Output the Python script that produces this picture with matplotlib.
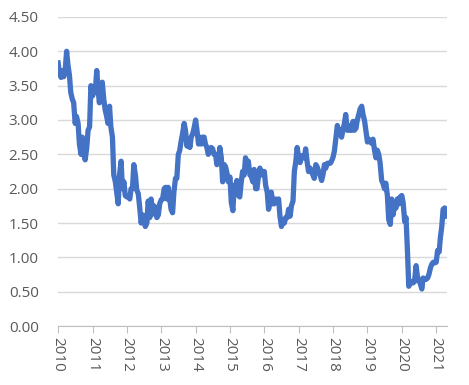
import matplotlib
matplotlib.use("Agg")
import matplotlib.pyplot as plt
import matplotlib.dates as mdates
import pandas as pd

# semi-monthly readings (1st and 15th of each month), Jan 2010 - Apr 2021
START = "2010-01-01"
Y2010 = [3.83, 3.68, 3.62, 3.72, 3.63, 3.70, 4.00, 3.80, 3.65, 3.40, 3.30, 3.25,
         2.95, 3.05, 2.95, 2.65, 2.50, 2.75, 2.50, 2.42, 2.60, 2.85, 2.90, 3.50]
Y2011 = [3.35, 3.40, 3.45, 3.72, 3.45, 3.25, 3.45, 3.55, 3.30, 3.15, 3.05, 2.95,
         3.20, 2.90, 2.75, 2.20, 2.10, 1.95, 1.78, 2.20, 2.40, 2.00, 2.10, 1.90]
Y2012 = [1.88, 1.90, 1.85, 2.00, 2.00, 2.35, 2.20, 1.98, 1.93, 1.75, 1.50, 1.62,
         1.60, 1.45, 1.50, 1.82, 1.58, 1.85, 1.63, 1.75, 1.72, 1.58, 1.62, 1.78]
Y2013 = [1.84, 1.85, 2.00, 2.02, 1.85, 2.02, 1.85, 1.70, 1.65, 1.95, 2.15, 2.15,
         2.50, 2.55, 2.70, 2.80, 2.95, 2.85, 2.62, 2.70, 2.60, 2.75, 2.80, 2.88]
Y2014 = [3.00, 2.85, 2.65, 2.75, 2.65, 2.75, 2.75, 2.65, 2.60, 2.50, 2.55, 2.60,
         2.58, 2.50, 2.50, 2.35, 2.40, 2.60, 2.45, 2.10, 2.35, 2.32, 2.22, 2.10]
Y2015 = [2.17, 1.80, 1.68, 2.05, 2.00, 2.12, 1.90, 1.88, 2.10, 2.25, 2.20, 2.45,
         2.35, 2.40, 2.20, 2.18, 2.10, 2.28, 2.00, 2.00, 2.20, 2.30, 2.20, 2.25]
Y2016 = [2.25, 2.05, 1.95, 1.70, 1.80, 1.95, 1.78, 1.78, 1.85, 1.80, 1.85, 1.60,
         1.45, 1.55, 1.50, 1.58, 1.58, 1.70, 1.60, 1.75, 1.82, 2.25, 2.40, 2.60]
Y2017 = [2.45, 2.38, 2.48, 2.45, 2.45, 2.58, 2.38, 2.25, 2.30, 2.25, 2.20, 2.15,
         2.35, 2.32, 2.25, 2.20, 2.12, 2.20, 2.35, 2.30, 2.37, 2.37, 2.37, 2.40]
Y2018 = [2.46, 2.55, 2.75, 2.92, 2.85, 2.85, 2.75, 2.85, 2.95, 3.08, 2.85, 2.92,
         2.85, 2.85, 2.98, 2.85, 2.88, 3.00, 3.08, 3.16, 3.20, 3.08, 2.99, 2.85]
Y2019 = [2.68, 2.72, 2.68, 2.66, 2.72, 2.58, 2.45, 2.56, 2.50, 2.38, 2.12, 2.08,
         2.00, 2.08, 1.90, 1.55, 1.48, 1.85, 1.62, 1.75, 1.72, 1.85, 1.78, 1.88]
Y2020 = [1.90, 1.80, 1.52, 1.58, 1.10, 0.58, 0.62, 0.65, 0.63, 0.65, 0.88, 0.72,
         0.66, 0.62, 0.54, 0.70, 0.68, 0.68, 0.70, 0.75, 0.85, 0.90, 0.93, 0.92]
Y2021 = [0.93, 1.10, 1.08, 1.30, 1.45, 1.70, 1.72, 1.60]

YTICKS = [0.0, 0.5, 1.0, 1.5, 2.0, 2.5, 3.0, 3.5, 4.0, 4.5]
YEARS = list(range(2010, 2022))

values = Y2010 + Y2011 + Y2012 + Y2013 + Y2014 + Y2015 + Y2016 + Y2017 + Y2018 + Y2019 + Y2020 + Y2021
dates = pd.date_range(START, periods=len(values), freq="SMS")

plt.rcParams["font.family"] = ["Open Sans", "DejaVu Sans"]

fig = plt.figure(figsize=(4.69, 3.85), dpi=100)
ax = fig.add_axes([0.124, 0.153, 0.829, 0.803])

ax.plot(dates, values, color="#4472C4", linewidth=3.8, solid_joinstyle="round")

ax.set_ylim(0, 4.5)
ax.set_yticks(YTICKS)
ax.set_yticklabels([f"{v:.2f}" for v in YTICKS])
ax.set_xlim(pd.Timestamp("2010-01-01"), pd.Timestamp("2021-04-25"))
ax.set_xticks([pd.Timestamp(f"{y}-01-01") for y in YEARS])
ax.xaxis.set_major_formatter(mdates.DateFormatter("%Y"))

ax.grid(axis="y", color="#d9d9d9", linewidth=1)
ax.set_axisbelow(True)
for side in ("top", "right", "left"):
    ax.spines[side].set_visible(False)
ax.spines["bottom"].set_color("#bfbfbf")
ax.tick_params(axis="y", length=0, pad=14, labelsize=11, labelcolor="#595959")
ax.tick_params(axis="x", length=5, color="#bfbfbf", pad=3, labelsize=11,
               labelcolor="#595959", labelrotation=-90)

fig.savefig("out.png", dpi=100)
